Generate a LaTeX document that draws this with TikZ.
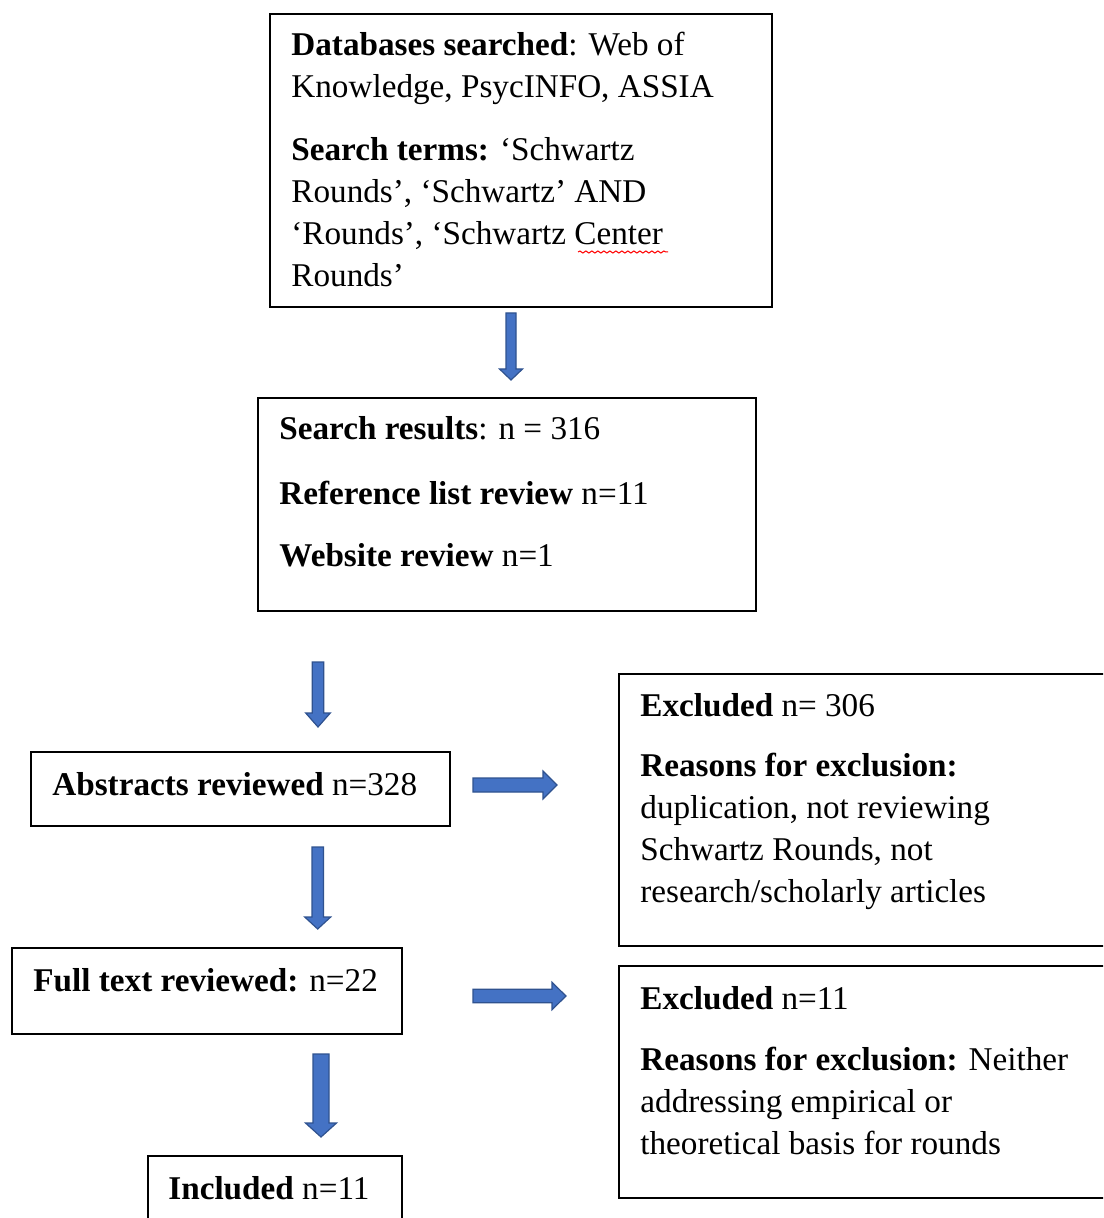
\documentclass[tikz,border=0pt]{standalone}
\usepackage{fontspec}
\setmainfont{Liberation Serif}
\usetikzlibrary{decorations.pathmorphing}
\definecolor{arrfill}{HTML}{4472C4}
\definecolor{arrline}{HTML}{2F528F}
% vertical block arrow: x, ytop, ytip, shaft half, head half, head length
\newcommand{\vblk}[6]{\filldraw[blockarrow] (#1-#4,#2) -- (#1+#4,#2) -- (#1+#4,#3-#6) -- (#1+#5,#3-#6) -- (#1,#3) -- (#1-#5,#3-#6) -- (#1-#4,#3-#6) -- cycle;}
% horizontal block arrow: y, xleft, xtip, shaft half, head half, head length
\newcommand{\hblk}[6]{\filldraw[blockarrow] (#2,#1-#4) -- (#2,#1+#4) -- (#3-#6,#1+#4) -- (#3-#6,#1+#5) -- (#3,#1) -- (#3-#6,#1-#5) -- (#3-#6,#1-#4) -- cycle;}
\begin{document}
\begin{tikzpicture}[x=0.5pt,y=-0.5pt,
  box/.style={draw, line width=1pt, inner sep=0pt, anchor=north west},
  txt/.style={anchor=base west, inner sep=0pt, align=left, font=\fontsize{16.6}{21}\selectfont},
  blockarrow/.style={fill=arrfill, draw=arrline, line width=0.6pt, line join=miter}]
\clip (0,0) rectangle (1103,1218);
\fill[white] (0,0) rectangle (1103,1218);

% boxes
\node[box, minimum width=251pt, minimum height=146.5pt] (b1) at (269,13) {};
\node[box, minimum width=249pt, minimum height=106.5pt] (b2) at (257,397) {};
\node[box, minimum width=209.5pt, minimum height=37pt] (b3) at (30,751) {};
\node[box, minimum width=248.5pt, minimum height=136pt] (e1) at (618,673) {};
\node[box, minimum width=195pt, minimum height=43pt] (b4) at (11,947) {};
\node[box, minimum width=248.5pt, minimum height=116pt] (e2) at (618,965) {};
\node[box, minimum width=127pt, minimum height=42.5pt] (b5) at (147,1155) {};

% texts (anchor = baseline of the last line)
\node[txt] (t1a) at (291,98) {\textbf{Databases searched}: Web of\\Knowledge, PsycINFO, ASSIA};
\node[txt] (t1b) at (291,287) {\textbf{Search terms:} ‘Schwartz\\Rounds’, ‘Schwartz’ AND\\‘Rounds’, ‘Schwartz Center\\Rounds’};
\draw[red, line width=0.5pt, decorate, decoration={snake, amplitude=0.5pt, segment length=3pt}] (578,252) -- (668,252);

\node[txt] (t2a) at (279,440) {\textbf{Search results}: n = 316};
\node[txt] (t2b) at (279,504) {\textbf{Reference list review} n=11};
\node[txt] (t2c) at (279,566) {\textbf{Website review} n=1};

\node[txt] (t3) at (52,795) {\textbf{Abstracts reviewed} n=328};

\node[txt] (te1a) at (640,716) {\textbf{Excluded} n= 306};
\node[txt] (te1b) at (640,902) {\textbf{Reasons for exclusion:}\\duplication, not reviewing\\Schwartz Rounds, not\\research/scholarly articles};

\node[txt] (t4) at (33,991) {\textbf{Full text reviewed:} n=22};

\node[txt] (te2a) at (640,1009) {\textbf{Excluded} n=11};
\node[txt] (te2b) at (640,1154) {\textbf{Reasons for exclusion:} Neither\\addressing empirical or\\theoretical basis for rounds};

\node[txt] (t5) at (168,1199) {\textbf{Included} n=11};

% block arrows
\vblk{511}{313}{380}{5}{11.5}{11}
\vblk{318}{662}{727}{5.7}{12.3}{14}
\vblk{317.7}{847}{929}{5.7}{13}{12}
\vblk{321}{1054}{1137}{8}{15.5}{14}
\hblk{785}{473}{557}{7}{14}{14}
\hblk{996}{473}{566}{6.7}{13.7}{14}
\end{tikzpicture}
\end{document}
